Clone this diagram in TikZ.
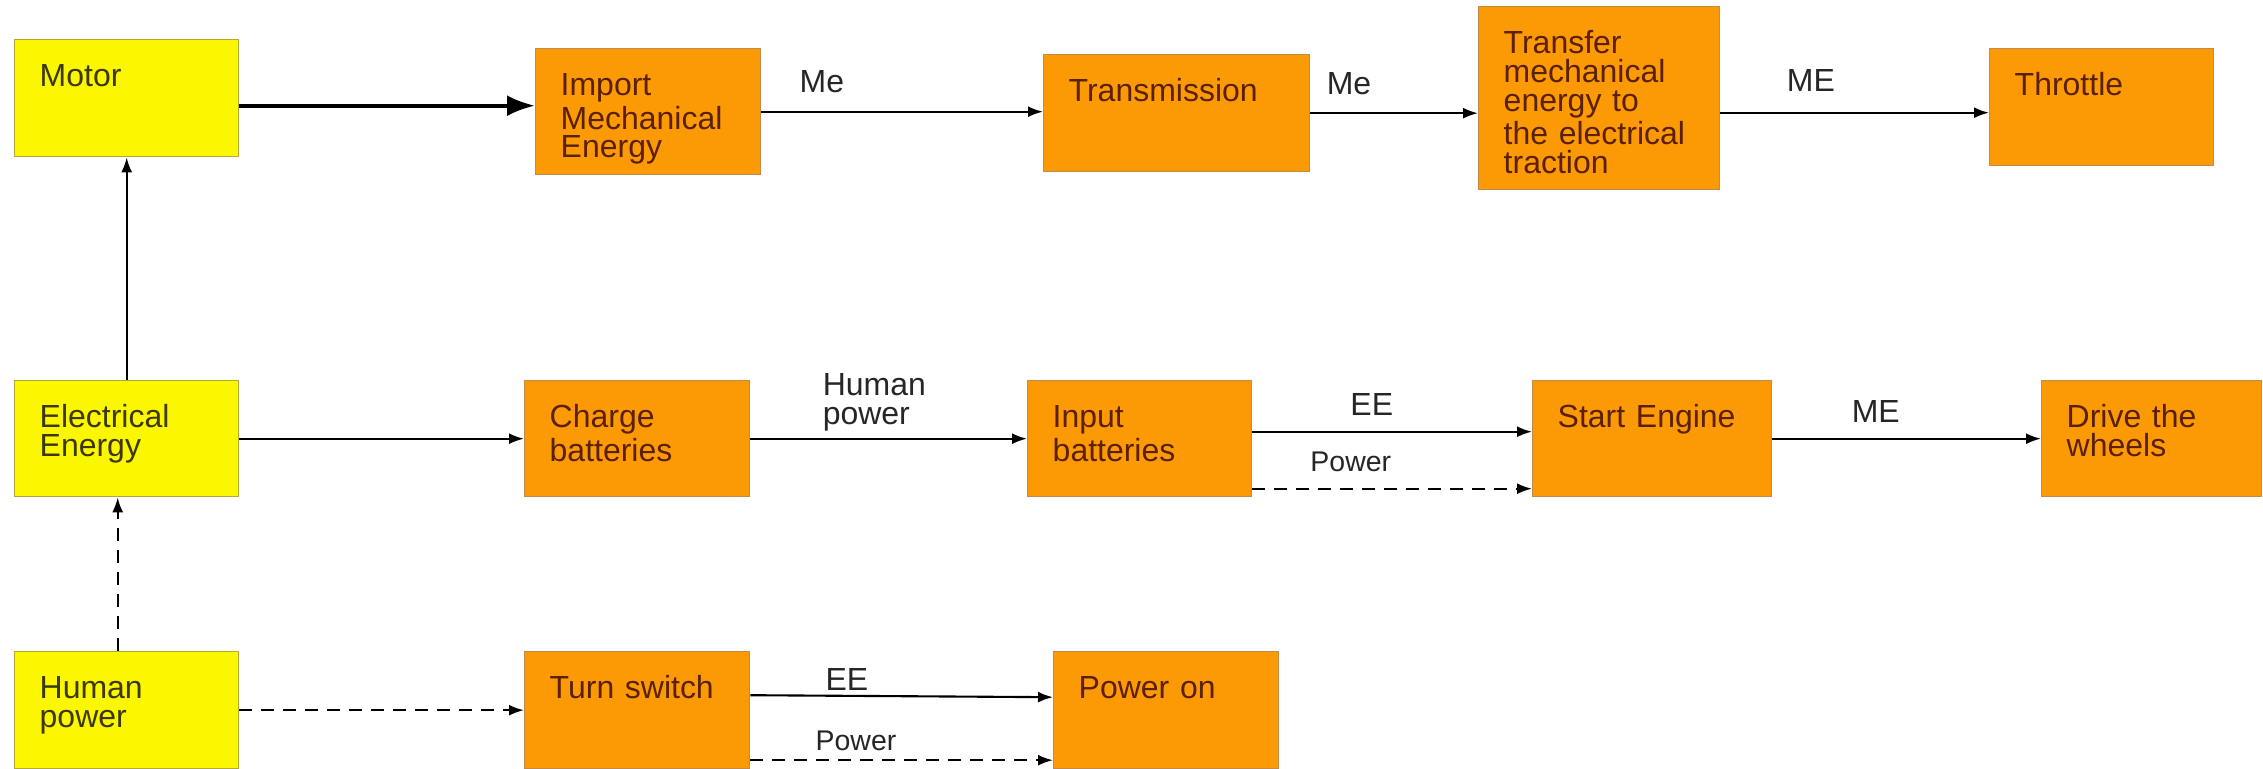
\documentclass[tikz,border=0pt]{standalone}
\usepackage{fontspec}
\setmainfont{Liberation Sans}
\usepackage{tikz}
\usetikzlibrary{arrows.meta}

\definecolor{boxyellow}{HTML}{FBF700}
\definecolor{boxorange}{HTML}{FC9A05}
\definecolor{yellowline}{HTML}{B4A83C}
\definecolor{orangeline}{HTML}{C48A4A}
\definecolor{yellowtext}{HTML}{3C3800}
\definecolor{orangetext}{HTML}{5A2000}

\begin{document}
\begin{tikzpicture}[
        blockbox/.style={rectangle, draw, line width=0.4pt, anchor=north west, align=left, inner xsep=0.25cm, inner ysep=0.24cm, text height=0.23cm, font=\fontsize{9.1}{8.2}\selectfont},
        inputbox/.style={blockbox, fill=boxyellow, draw=yellowline, text=yellowtext},
        funcbox/.style={blockbox, fill=boxorange, draw=orangeline, text=orangetext},
        flow/.style={line width=0.6pt, -{Latex[length=0.15cm, width=0.11cm]}},
        powerflow/.style={flow, dash pattern=on 0.13cm off 0.09cm},
        flowlabel/.style={font=\fontsize{9.1}{8.2}\selectfont, text=black!85, align=left},
        powerlabel/.style={font=\fontsize{8.1}{8}\selectfont, text=black!85}
    ]
        \useasboundingbox (0,0) rectangle (22.63,-7.69);

        \node (motor) [inputbox, text width=1.74cm, text depth=0.46cm] at (0.14,-0.39) {Motor};
        \node (import) [funcbox, text width=1.75cm, text depth=0.55cm] at (5.35,-0.48) {Import\\Mechanical\\Energy};
        \node (trans) [funcbox, text width=2.16cm, text depth=0.46cm] at (10.43,-0.54) {Transmission};
        \node (transfer) [funcbox, text width=1.91cm, text depth=1.12cm] at (14.78,-0.06) {Transfer\\mechanical\\energy to\\the electrical\\traction};
        \node (throttle) [funcbox, text width=1.74cm, text depth=0.46cm] at (19.89,-0.48) {Throttle};

        \node (elec) [inputbox, text width=1.74cm, text depth=0.45cm] at (0.14,-3.80) {Electrical\\Energy};
        \node (charge) [funcbox, text width=1.75cm, text depth=0.45cm] at (5.24,-3.80) {Charge\\batteries};
        \node (input) [funcbox, text width=1.74cm, text depth=0.45cm] at (10.27,-3.80) {Input\\batteries};
        \node (start) [funcbox, text width=1.89cm, text depth=0.45cm] at (15.32,-3.80) {Start Engine};
        \node (drive) [funcbox, text width=1.70cm, text depth=0.45cm] at (20.41,-3.80) {Drive the\\wheels};

        \node (human) [inputbox, text width=1.74cm, text depth=0.46cm] at (0.14,-6.51) {Human\\power};
        \node (turn) [funcbox, text width=1.75cm, text depth=0.46cm] at (5.24,-6.51) {Turn switch};
        \node (poweron) [funcbox, text width=1.75cm, text depth=0.46cm] at (10.53,-6.51) {Power on};

        \draw[line width=1.1pt, -{Latex[length=0.28cm, width=0.21cm]}] ([yshift=-0.075cm]motor.east) -- ([yshift=-0.075cm]motor.east -| import.west);
        \draw[flow] (import.east) -- node[flowlabel, pos=0.215, above=0.06cm] {Me} (import.east -| trans.west);
        \draw[flow] (trans.east) -- node[flowlabel, pos=0.23, above=0.06cm] {Me} (trans.east -| transfer.west);
        \draw[flow] ([yshift=-0.055cm]throttle.west -| transfer.east) -- node[flowlabel, pos=0.337, above=0.08cm] {ME} ([yshift=-0.055cm]throttle.west);

        \draw[flow] (elec.north) -- (motor.south);
        \draw[powerflow] ([xshift=-0.09cm]human.north) -- ([xshift=-0.09cm]elec.south);

        \draw[flow] (elec.east) -- (charge.west);
        \draw[flow] (charge.east) -- node[flowlabel, pos=0.448, above, yshift=-0.05cm] {Human\\power} (input.west);
        \draw[flow] ([yshift=0.07cm]input.east) -- node[flowlabel, pos=0.427, above=0.03cm] {EE} ([yshift=0.07cm]start.west);
        \draw[powerflow] ([yshift=-0.5cm]input.east) -- node[powerlabel, pos=0.352, above=0.04cm] {Power} ([yshift=-0.5cm]start.west);
        \draw[flow] (start.east) -- node[flowlabel, pos=0.385, above=0.03cm] {ME} (drive.west);

        \draw[powerflow] (human.east) -- (turn.west);
        \draw[flow] ([yshift=0.15cm]turn.east) -- node[flowlabel, pos=0.319, above, yshift=-0.07cm] {EE} ([yshift=0.13cm]poweron.west);
        \draw[powerflow] ([yshift=-0.5cm]turn.east) -- node[powerlabel, pos=0.349, above, yshift=-0.03cm] {Power} ([yshift=-0.5cm]poweron.west);
    \end{tikzpicture}
\end{document}
